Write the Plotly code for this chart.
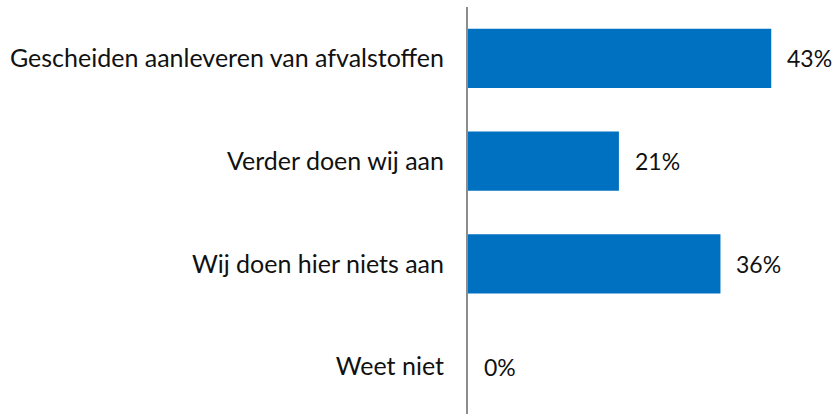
import plotly.graph_objects as go

categories = ["Gescheiden aanleveren van afvalstoffen", "Verder doen wij aan",
              "Wij doen hier niets aan", "Weet niet"]
values = [43.0, 21.4, 35.8, 0.0]
labels = ["43%", "21%", "36%", "0%"]

FONT = "Lato"

fig = go.Figure(go.Bar(
    x=values, y=categories, orientation="h",
    marker=dict(color="#0070C0", line=dict(width=0)),
    width=0.575,
    hoverinfo="skip",
))

for c, v, t in zip(categories, values, labels):
    fig.add_annotation(x=v, y=c, text=t, showarrow=False, xanchor="left",
                       xshift=14, font=dict(family=FONT, size=23, color="#111111"))

fig.update_layout(
    width=834, height=414,
    margin=dict(l=468, r=0, t=7, b=0),
    paper_bgcolor="white", plot_bgcolor="white",
    showlegend=False,
    font=dict(family=FONT, size=25, color="#111111"),
    xaxis=dict(range=[0, 51.9], showgrid=False, zeroline=False,
               showticklabels=False, showline=False, ticks=""),
    yaxis=dict(categoryorder="array", categoryarray=categories,
               range=[3.461, -0.5], showgrid=False, zeroline=False,
               showline=True, linecolor="#8c8c8c", linewidth=2,
               ticks="", ticklabelstandoff=17,
               tickfont=dict(family=FONT, size=25, color="#111111")),
)

fig.write_html("out.html", config={"displayModeBar": False},
               post_script="document.body.style.margin='0';document.body.style.overflow='hidden';")
